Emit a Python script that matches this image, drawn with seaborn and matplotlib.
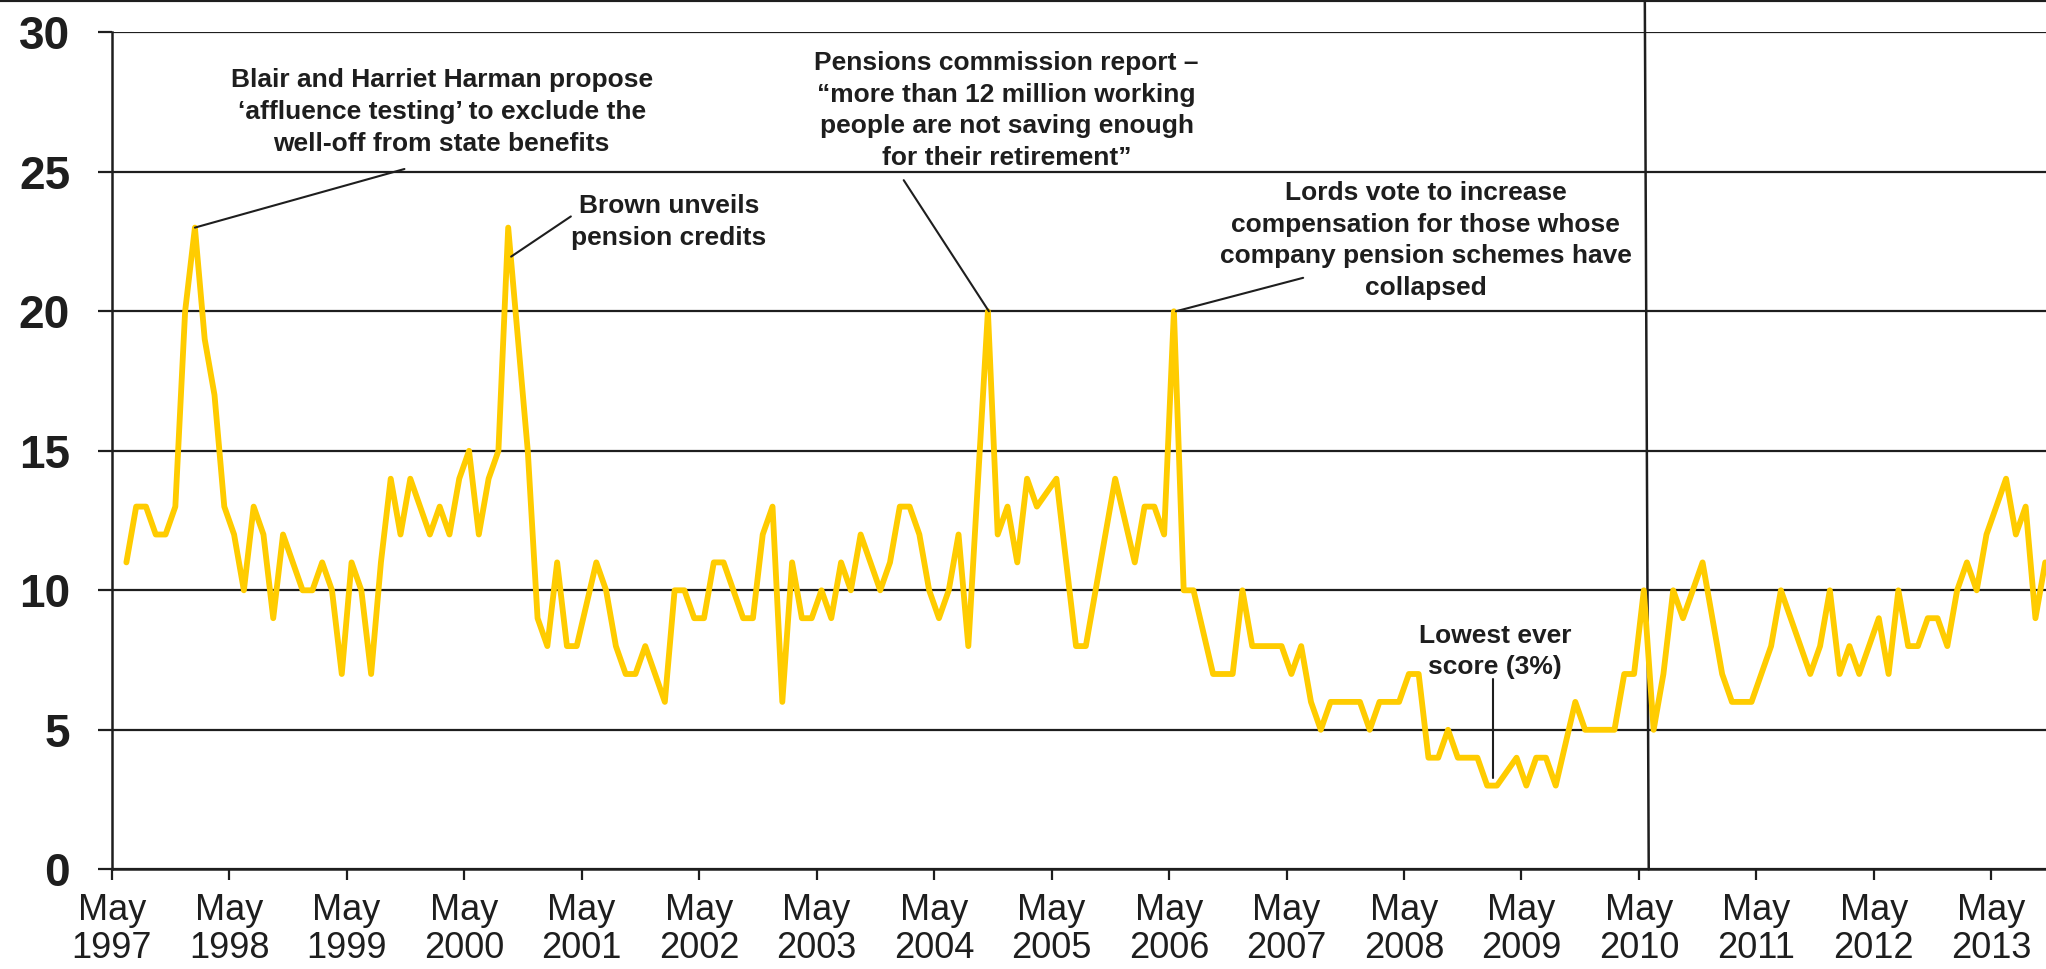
import matplotlib
matplotlib.use("Agg")
import matplotlib.pyplot as plt
from matplotlib.lines import Line2D
import seaborn as sns
import pandas as pd
import numpy as np

# ---- data: monthly score (%), first survey June 1997; None = no reading that month
score = [
    11, 13, 13, 12, 12, 13, 20, 23, 19, 17, 13, 12,      # Jun 1997 - May 1998
    10, 13, 12, 9, 12, 11, 10, 10, 11, 10, 7, 11,        # Jun 1998 - May 1999
    10, 7, 11, 14, 12, 14, 13, 12, 13, 12, 14, 15,       # Jun 1999 - May 2000
    12, 14, 15, 23, 19, 15, 9, 8, 11, 8, 8, None,        # Jun 2000 - May 2001
    11, 10, 8, 7, 7, 8, 7, 6, 10, 10, 9, 9,              # Jun 2001 - May 2002
    11, 11, 10, 9, 9, 12, 13, 6, 11, 9, 9, 10,           # Jun 2002 - May 2003
    9, 11, 10, 12, 11, 10, 11, 13, 13, 12, 10, 9,        # Jun 2003 - May 2004
    10, 12, 8, 14, 20, 12, 13, 11, 14, 13, None, 14,     # Jun 2004 - May 2005
    11, 8, 8, 10, 12, 14, None, 11, 13, 13, 12, 20,      # Jun 2005 - May 2006
    10, 10, None, 7, 7, 7, 10, 8, 8, 8, 8, 7,            # Jun 2006 - May 2007
    8, 6, 5, 6, 6, 6, 6, 5, 6, 6, 6, 7,                  # Jun 2007 - May 2008
    7, 4, 4, 5, 4, 4, 4, 3, 3, None, 4, 3,               # Jun 2008 - May 2009
    4, 4, 3, None, 6, 5, 5, 5, 5, 7, 7, 10,              # Jun 2009 - May 2010
    5, 7, 10, 9, 10, 11, 9, 7, 6, 6, 6, 7,               # Jun 2010 - May 2011
    8, 10, 9, 8, 7, 8, 10, 7, 8, 7, 8, 9,                # Jun 2011 - May 2012
    7, 10, 8, 8, 9, 9, 8, 10, 11, 10, 12, 13,            # Jun 2012 - May 2013
    14, 12, 13, 9, 11,                                   # Jun 2013 - Oct 2013
]
months = pd.period_range("1997-06", periods=len(score), freq="M")
tick_years = list(range(1997, 2014))
tick_labels = [f"May\n{y}" for y in tick_years]
y_ticks = [0, 5, 10, 15, 20, 25, 30]

annotations = [
    ("Blair and Harriet Harman propose\n\u2018affluence testing\u2019 to exclude the\nwell-off from state benefits",
     (33.7, 27.14), [(8.5, 23.0), (29.9, 25.1)]),
    ("Brown unveils\npension credits",
     (56.9, 23.2), [(40.8, 21.96), (46.9, 23.4)]),
    ("Pensions commission report \u2013\n\u201cmore than 12 million working\npeople are not saving enough\nfor their retirement\u201d",
     (91.4, 27.2), [(89.6, 20.0), (80.9, 24.7)]),
    ("Lords vote to increase\ncompensation for those whose\ncompany pension schemes have\ncollapsed",
     (134.2, 22.54), [(108.7, 20.0), (121.7, 21.2)]),
    ("Lowest ever\nscore (3%)",
     (141.3, 7.81), [(141.1, 6.83), (141.1, 3.28)]),
]

# ---- frame
df = pd.DataFrame({"month": months, "score": score}).dropna()
df["x"] = (df["month"].dt.year - 1997) * 12 + (df["month"].dt.month - 5) + 0.5

sns.set_theme(style="white")
plt.rcParams["font.family"] = ["Liberation Sans", "DejaVu Sans"]

W, H, DPI = 2046, 969, 100
fig = plt.figure(figsize=(W / DPI, H / DPI), dpi=DPI)
ax = fig.add_axes([111.7 / W, 1 - 869.3 / H, 1 - 111.7 / W, (869.3 - 32.3) / H])

INK = "#1e1e1e"
sns.lineplot(data=df, x="x", y="score", ax=ax, color="#FFCC00", linewidth=4.2,
             solid_joinstyle="round", solid_capstyle="round", zorder=3)

ax.set_xlim(0, (W - 111.7) / 9.79)
ax.set_ylim(0, 30)
ax.set_xlabel("")
ax.set_ylabel("")

ax.set_yticks(y_ticks)
ax.set_yticklabels([str(v) for v in y_ticks], fontsize=33, fontweight="bold", color=INK)
ax.set_xticks([(y - 1997) * 12 for y in tick_years])
ax.set_xticklabels(tick_labels, fontsize=26, color=INK, linespacing=1.12)

ax.grid(axis="y", color=INK, linewidth=1.6)
ax.grid(axis="x", visible=False)
ax.tick_params(axis="y", length=10, width=1.6, color=INK, pad=20, left=True)
ax.tick_params(axis="x", length=8, width=1.6, color=INK, pad=9, bottom=True)
for side in ("top", "right"):
    ax.spines[side].set_visible(False)
for side in ("left", "bottom"):
    ax.spines[side].set_color(INK)
    ax.spines[side].set_linewidth(1.8)
ax.set_axisbelow(True)

# annotations
for text, pos, seg in annotations:
    ax.text(pos[0], pos[1], text, ha="center", va="center", fontsize=19,
            fontweight="bold", color=INK, linespacing=1.4, zorder=4)
    (x0, y0), (x1, y1) = seg
    ax.plot([x0, x1], [y0, y1], color=INK, linewidth=1.5, zorder=5)

# election marker line (May 2010)
ax.plot([156.6, 157.0], [31.2, 0], color=INK, linewidth=1.8, clip_on=False, zorder=2)

# top border line
fig.add_artist(Line2D([0, 1], [1, 1], transform=fig.transFigure, color=INK, linewidth=3))

fig.savefig("out.png", dpi=DPI)
